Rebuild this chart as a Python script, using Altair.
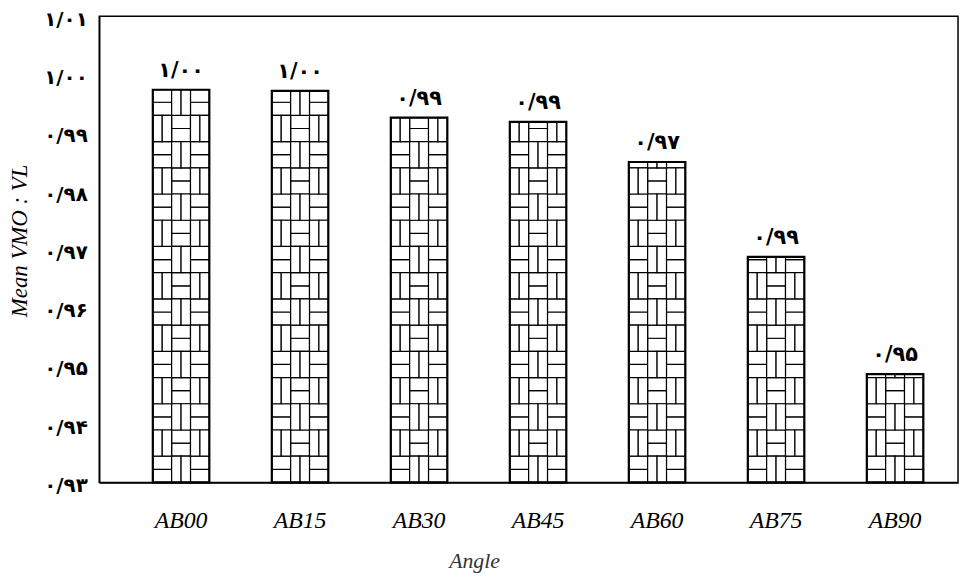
import altair as alt
import pandas as pd

# ---- data ----
categories = ["AB00", "AB15", "AB30", "AB45", "AB60", "AB75", "AB90"]
values = [0.9974, 0.9972, 0.9926, 0.9919, 0.9850, 0.9687, 0.9486]
bar_labels = ["۱/۰۰", "۱/۰۰", "۰/۹۹", "۰/۹۹", "۰/۹۷", "۰/۹۹", "۰/۹۵"]
y_tick_values = [0.93, 0.94, 0.95, 0.96, 0.97, 0.98, 0.99, 1.00, 1.01]
y_tick_labels = ["۰/۹۳", "۰/۹۴", "۰/۹۵", "۰/۹۶", "۰/۹۷", "۰/۹۸", "۰/۹۹", "۱/۰۰", "۱/۰۱"]
y_min, y_max = 0.93, 1.01

bars = pd.DataFrame({"cat": categories, "value": values, "label": bar_labels})

# ---- basket-weave texture (decorative), built from the bar values ----
row_h = 0.0045  # texture cell height in data units
horiz, vert = [], []
for cat, v in zip(categories, values):
    r = 0
    while y_min + r * row_h < v - 1e-9:
        y0 = y_min + r * row_h
        y1 = min(y0 + row_h, v)
        ym = y0 + row_h / 2
        for c in range(3):
            if (r + c) % 2 == 0:
                # two horizontal bricks
                horiz.append({"cat": cat, "col": c, "y0": y0, "y1": min(ym, v)})
                if ym < v:
                    horiz.append({"cat": cat, "col": c, "y0": ym, "y1": y1})
            else:
                # two vertical bricks
                vert.append({"cat": cat, "col": 2 * c, "y0": y0, "y1": y1})
                vert.append({"cat": cat, "col": 2 * c + 1, "y0": y0, "y1": y1})
        r += 1
horiz_df = pd.DataFrame(horiz)
vert_df = pd.DataFrame(vert)

serif = "Liberation Serif"
digit_font = "DejaVu Sans"

label_expr = "[" + ",".join("'" + s + "'" for s in y_tick_labels) + "][round((datum.value-0.93)*100)]"

x_scale = alt.Scale(domain=categories, paddingInner=0.525, paddingOuter=0.3708, align=0.607)
y_scale = alt.Scale(domain=[y_min, y_max], nice=False, zero=False)

x_enc = alt.X(
    "cat:N",
    scale=x_scale,
    sort=categories,
    axis=alt.Axis(
        title="Angle",
        labelAngle=0,
        ticks=False,
        domain=True,
        domainColor="black",
        domainWidth=1.5,
        labelFont=serif,
        labelFontStyle="italic",
        labelFontSize=24,
        labelColor="black",
        labelPadding=26,
        titleFont=serif,
        titleFontStyle="italic",
        titleFontWeight="normal",
        titleFontSize=22,
        titleColor="#333333",
        titleX=378,
        titleY=79,
        titleAlign="center",
        titleBaseline="middle",
    ),
)
y_axis = alt.Axis(
    title="Mean VMO : VL",
    values=y_tick_values,
    labelExpr=label_expr,
    ticks=False,
    grid=False,
    domain=True,
    domainColor="black",
    domainWidth=1.5,
    labelFont=digit_font,
    labelFontWeight="bold",
    labelFontSize=20,
    labelColor="black",
    labelPadding=12,
    labelOffset=3,
    titleFont=serif,
    titleFontStyle="italic",
    titleFontWeight="normal",
    titleFontSize=23,
    titleColor="black",
    titleX=-80,
    titleY=226,
    titleAlign="center",
    titleBaseline="middle",
)

base_fill = alt.Chart(bars).mark_bar(fill="white", stroke=None).encode(
    x=x_enc,
    y=alt.Y("value:Q", scale=y_scale, axis=y_axis),
    y2=alt.datum(y_min),
)

h_layer = alt.Chart(horiz_df).mark_rect(fill="white", stroke="black", strokeWidth=1.2).encode(
    x=alt.X("cat:N", sort=categories),
    xOffset=alt.XOffset("col:O", scale=alt.Scale(domain=[0, 1, 2], paddingInner=0, paddingOuter=0)),
    y=alt.Y("y0:Q"),
    y2="y1:Q",
)

v_layer = alt.Chart(vert_df).mark_rect(fill="white", stroke="black", strokeWidth=1.2).encode(
    x=alt.X("cat:N", sort=categories),
    xOffset=alt.XOffset("col:O", scale=alt.Scale(domain=[0, 1, 2, 3, 4, 5], paddingInner=0, paddingOuter=0)),
    y=alt.Y("y0:Q"),
    y2="y1:Q",
)

outline = alt.Chart(bars).mark_bar(fillOpacity=0, stroke="black", strokeWidth=2.2).encode(
    x=alt.X("cat:N", sort=categories),
    y=alt.Y("value:Q"),
    y2=alt.datum(y_min),
)

text = alt.Chart(bars).mark_text(
    font=digit_font, fontWeight="bold", fontSize=21, color="black",
    baseline="bottom", dy=-9,
).encode(
    x=alt.X("cat:N", sort=categories),
    y=alt.Y("value:Q"),
    text="label:N",
)

chart = (
    alt.layer(base_fill, h_layer, v_layer, outline, text)
    .resolve_scale(xOffset="independent")
    .properties(
        width=866,
        height=470,
        autosize=alt.AutoSizeParams(type="none"),
        padding={"left": 92, "top": 6, "right": 2, "bottom": 96},
        background="white",
    )
    .configure_view(stroke="black", strokeWidth=1.5)
)

chart.save("out.html", embed_options={"renderer": "svg", "actions": False})
